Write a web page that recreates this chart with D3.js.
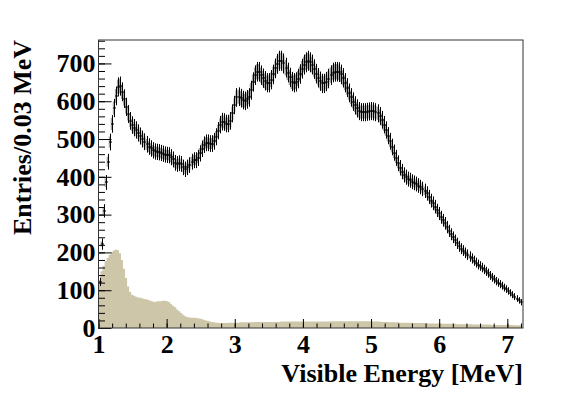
<!DOCTYPE html>
<html>
<head>
<meta charset="utf-8">
<script src="https://cdn.jsdelivr.net/npm/d3@7"></script>
<style>
  body { margin: 0; background: #fff; }
  svg text { font-family: "Liberation Serif", "Times New Roman", serif; font-weight: bold; fill: #000; }
</style>
</head>
<body>
<svg id="chart"></svg>
<script>
// visible energy spectrum, 0.03 MeV bins starting at 1 MeV
const binStart = 1.0;
const binWidth = 0.03;

// data entries per bin
const dataCounts = [
  122,222,310,385,440,492,540,582,614,638,
  640,625,607,585,566,548,537,530,524,516,
  508,500,493,486,480,475,470,467,466,465,
  463,461,459,458,457,452,446,437,434,436,
  434,425,420,425,431,440,444,444,450,462,
  474,485,490,490,488,488,494,506,522,538,
  546,545,541,541,548,568,590,610,612,608,
  603,601,605,610,629,651,669,678,678,669,
  661,654,649,649,657,671,687,699,707,707,
  700,689,676,663,652,649,651,660,672,686,
  697,703,707,703,697,685,673,662,653,647,
  647,652,660,669,676,678,678,677,671,662,
  649,636,622,610,599,589,581,574,571,571,
  571,572,573,574,573,571,568,561,551,538,
  524,509,494,479,464,450,436,424,414,405,
  399,394,391,387,384,381,377,373,368,363,
  356,347,337,330,321,311,303,293,285,277,
  267,257,248,240,232,224,216,210,205,199,
  194,189,184,178,173,168,164,160,155,150,
  145,139,134,129,124,120,116,112,107,103,
  98,93,88,83,78,73,68
];

// background histogram (filled)
const bkgCounts = [
  125,150,165,177,186,194,201,205,208,206,
  198,180,157,132,110,95,88,85,83,81,
  80,79,77,76,74,72,70,69,70,71,
  71,72,72,71,69,64,59,55,49,44,
  40,35,31,29,28,27,27,27,26,25,
  24,22,20,19,17,16,15,14,14,13,
  13,13,13,14,14,14,14,14,14,15,
  15,15,15,15,15,15,16,16,16,16,
  16,16,16,16,16,16,16,16,16,17,
  17,17,17,17,17,17,17,17,17,17,
  17,17,17,17,17,17,17,17,17,17,
  17,17,17,18,18,18,18,18,18,18,
  18,18,18,18,18,18,18,18,18,18,
  18,18,18,18,17,17,17,17,16,16,
  16,16,15,15,15,15,15,14,14,14,
  14,14,14,14,13,13,13,13,13,13,
  13,12,12,12,12,12,12,12,11,11,
  11,11,11,11,11,10,10,10,10,10,
  10,10,10,9,9,9,9,9,9,9,
  9,9,8,8,8,8,8,8,8,8,
  8,8,8,7,7,7,7
];

const sysFrac = 0.03; // grey systematic band
const xTicks = [1, 2, 3, 4, 5, 6, 7];
const yTicks = [0, 100, 200, 300, 400, 500, 600, 700];

const width = 581;
const height = 397;
const frame = { left: 98.5, right: 523, top: 40, bottom: 328 };
const fontSize = '26px';

const svg = d3.select('#chart')
  .attr('width', width)
  .attr('height', height);

svg.append('rect').attr('width', width).attr('height', height).attr('fill', '#fff');

const x = d3.scaleLinear().domain([1, 7.23]).range([frame.left, frame.right]);
const y = d3.scaleLinear().domain([0, 762]).range([frame.bottom, frame.top]);

svg.append('clipPath').attr('id', 'clip')
  .append('rect')
  .attr('x', frame.left).attr('y', frame.top)
  .attr('width', frame.right - frame.left).attr('height', frame.bottom - frame.top);

const plot = svg.append('g').attr('clip-path', 'url(#clip)');

const bins = dataCounts.map((v, i) => ({
  lo: binStart + i * binWidth,
  hi: binStart + (i + 1) * binWidth,
  v: v,
  b: bkgCounts[i]
}));
// snap bar positions to the pixel grid so they stay crisp
const cx = d => Math.round(x((d.lo + d.hi) / 2)) + 0.5;

// background fill
const bkgPts = bins.map(d => [d.lo, d.b]);
bkgPts.push([bins[bins.length - 1].hi, bins[bins.length - 1].b]);
plot.append('path')
  .datum(bkgPts)
  .attr('fill', '#cdc6a8')
  .attr('d', d3.area()
    .curve(d3.curveStepAfter)
    .x(d => x(d[0]))
    .y0(y(0))
    .y1(d => y(d[1])));

// systematic band
plot.selectAll('.sys')
  .data(bins)
  .enter().append('rect')
  .attr('class', 'sys')
  .attr('x', d => x(d.lo))
  .attr('width', d => x(d.hi) - x(d.lo))
  .attr('y', d => y(d.v * (1 + sysFrac)))
  .attr('height', d => y(d.v * (1 - sysFrac)) - y(d.v * (1 + sysFrac)))
  .attr('fill', '#a3a3a3');

// stat error bars
plot.selectAll('.ev')
  .data(bins)
  .enter().append('line')
  .attr('class', 'ev')
  .attr('x1', cx)
  .attr('x2', cx)
  .attr('y1', d => y(d.v + Math.sqrt(d.v)))
  .attr('y2', d => y(d.v - Math.sqrt(d.v)))
  .attr('stroke', '#000')
  .attr('stroke-width', 1);

plot.selectAll('.mk')
  .data(bins)
  .enter().append('rect')
  .attr('class', 'mk')
  .attr('x', d => cx(d) - 1)
  .attr('y', d => Math.round(y(d.v)) - 1)
  .attr('width', 2)
  .attr('height', 2)
  .attr('fill', '#000');

// axes (ticks pointing inward)
const axisColor = '#000';
const yMinor = svg.append('g')
  .attr('transform', `translate(${frame.left},0)`)
  .call(d3.axisLeft(y).tickValues(d3.range(0, 762, 20)).tickSize(-6.5).tickFormat(''));
const yMajor = svg.append('g')
  .attr('transform', `translate(${frame.left},0)`)
  .call(d3.axisLeft(y).tickValues(yTicks).tickSize(-13).tickPadding(3).tickFormat(d3.format('d')));
const xMinor = svg.append('g')
  .attr('transform', `translate(0,${frame.bottom})`)
  .call(d3.axisBottom(x).tickValues(d3.range(1, 7.23, 0.2)).tickSize(-4.5).tickFormat(''));
const xMajor = svg.append('g')
  .attr('transform', `translate(0,${frame.bottom})`)
  .call(d3.axisBottom(x).tickValues(xTicks).tickSize(-9).tickPadding(7).tickFormat(d3.format('d')));

[yMinor, yMajor, xMinor, xMajor].forEach(g => {
  g.select('.domain').remove();
  g.selectAll('line').attr('stroke', axisColor);
  g.selectAll('text').style('font-size', fontSize);
});

// frame
svg.append('rect')
  .attr('x', frame.left).attr('y', frame.top)
  .attr('width', frame.right - frame.left)
  .attr('height', frame.bottom - frame.top)
  .attr('fill', 'none')
  .attr('stroke', '#333')
  .attr('stroke-width', 1);

// titles
svg.append('text')
  .attr('x', frame.right)
  .attr('y', 382)
  .attr('text-anchor', 'end')
  .style('font-size', fontSize)
  .text('Visible Energy [MeV]');

svg.append('text')
  .attr('transform', `translate(31,${frame.top}) rotate(-90)`)
  .attr('text-anchor', 'end')
  .style('font-size', fontSize)
  .text('Entries/0.03 MeV');
</script>
</body>
</html>
